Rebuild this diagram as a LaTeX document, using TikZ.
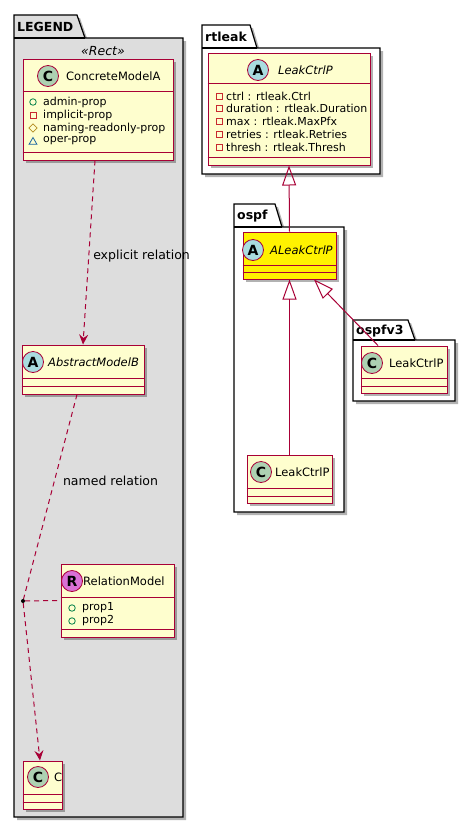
\documentclass[tikz,border=0pt]{standalone}
\usepackage{fontspec}
\setmainfont{DejaVu Sans}
\usetikzlibrary{arrows.meta,shadows,shapes.geometric}
\definecolor{umlred}{HTML}{A80036}
\definecolor{umlyellow}{HTML}{FEFECE}
\definecolor{spotc}{HTML}{ADD1B2}
\definecolor{spota}{HTML}{A9DCDF}
\definecolor{spotr}{HTML}{DA70D6}
\definecolor{legendgray}{HTML}{DDDDDD}
\definecolor{pubgreen}{HTML}{038048}
\definecolor{privred}{HTML}{C82930}
\definecolor{protgold}{HTML}{B38D22}
\definecolor{packblue}{HTML}{1963A0}
\newcommand{\fsz}[1]{\fontsize{#1}{#1}\selectfont}

\tikzset{
  shade/.style={drop shadow={shadow xshift=3pt, shadow yshift=-3pt, fill=black, opacity=0.3}},
  pkg/.style={draw=black, line width=1.2pt, fill=white, shade},
  pkgname/.style={anchor=west, inner sep=0, font=\bfseries\fsz{12.5}},
  classbox/.style={draw=umlred, line width=1pt, fill=umlyellow, inner sep=0, shade},
  sep/.style={draw=umlred, line width=1pt},
  spot/.style={circle, draw=umlred, line width=.8pt, minimum size=21pt, inner sep=0, font=\bfseries\fsz{14}},
  cname/.style={anchor=west, inner sep=0, font=\fsz{11.5}},
  attr/.style={anchor=west, inner sep=0, font=\fsz{11}},
  pub/.style={circle, draw=pubgreen, line width=.8pt, minimum size=6.5pt, inner sep=0},
  priv/.style={rectangle, draw=privred, line width=.8pt, minimum size=6pt, inner sep=0},
  prot/.style={diamond, draw=protgold, line width=.8pt, minimum size=8.5pt, inner sep=0},
  pack/.style={regular polygon, regular polygon sides=3, draw=packblue, line width=.8pt, minimum size=9pt, inner sep=0},
  lbl/.style={inner sep=0, font=\fsz{12.5}},
  dep/.style={draw=umlred, line width=1pt, dash pattern=on 5pt off 4pt},
  deparrow/.style={dep, -{Stealth[length=10pt, width=9pt, inset=3.5pt]}},
  inherit/.style={draw=umlred, line width=1pt, -{Triangle[open, length=20pt, width=14pt]}}
}

\begin{document}
\begin{tikzpicture}[x=1pt, y=-1pt]
  \useasboundingbox (0,0) rectangle (475,828);

  % packages
  \draw[pkg, fill=legendgray] (14,817) |- (77,15) -- (85,38) -| (183,817) -- cycle;
  \draw[line width=1.2pt] (14,38) -- (85,38);
  \node[pkgname] (legend) at (17,27) {LEGEND};
  \node[font=\itshape\fsz{12.5}, inner sep=0] (stereo) at (103,51) {«Rect»};

  \draw[pkg] (202,174) |- (250,25) -- (257,48) -| (380,174) -- cycle;
  \draw[line width=1.2pt] (202,48) -- (257,48);
  \node[pkgname] (rtleak) at (205,37) {rtleak};

  \draw[pkg] (234,512) |- (275,204) -- (282,227) -| (344,512) -- cycle;
  \draw[line width=1.2pt] (234,227) -- (282,227);
  \node[pkgname] (ospf) at (237,216) {ospf};

  \draw[pkg] (353,401) |- (408,320) -- (415,340) -| (455,401) -- cycle;
  \draw[line width=1.2pt] (353,340) -- (415,340);
  \node[pkgname] (ospfv3) at (356,331) {ospfv3};

  % LEGEND classes
  \node[classbox, minimum width=150pt, minimum height=101pt] (cma) at (98,109.5) {};
  \draw[sep] (cma.west |- 0,91) -- (cma.east |- 0,91);
  \draw[sep] (cma.west |- 0,152) -- (cma.east |- 0,152);
  \node[spot, fill=spotc] (cma-s) at (48,76) {C};
  \node[cname] (cma-n) at (66,76) {ConcreteModelA};
  \node[pub] (cma-i1) at (33,102) {};
  \node[attr] (cma-a1) at (43,102) {admin-prop};
  \node[priv] (cma-i2) at (33,115) {};
  \node[attr] (cma-a2) at (43,115) {implicit-prop};
  \node[prot] (cma-i3) at (33,128) {};
  \node[attr] (cma-a3) at (43,128) {naming-readonly-prop};
  \node[pack, yshift=-1pt] (cma-i4) at (33,141) {};
  \node[attr] (cma-a4) at (43,141) {oper-prop};

  \node[classbox, minimum width=122pt, minimum height=49pt] (absb) at (83,369.5) {};
  \draw[sep] (absb.west |- 0,378) -- (absb.east |- 0,378);
  \draw[sep] (absb.west |- 0,386) -- (absb.east |- 0,386);
  \node[spot, fill=spota] (absb-s) at (33,362) {A};
  \node[cname, font=\itshape\fsz{11.5}] (absb-n) at (48,362) {AbstractModelB};

  \node[classbox, minimum width=113pt, minimum height=73pt] (relm) at (117.5,600.5) {};
  \draw[sep] (relm.west |- 0,597) -- (relm.east |- 0,597);
  \draw[sep] (relm.west |- 0,629) -- (relm.east |- 0,629);
  \node[spot, fill=spotr] (relm-s) at (72,581) {R};
  \node[cname] (relm-n) at (83,581) {RelationModel};
  \foreach \p [count=\i] in {prop1, prop2} {
    \node[pub] (relm-i\i) at (72,595+13*\i) {};
    \node[attr] (relm-a\i) at (82,595+13*\i) {\p};
  }

  \node[classbox, minimum width=39pt, minimum height=48pt] (cls) at (42.5,785) {};
  \draw[sep] (cls.west |- 0,794) -- (cls.east |- 0,794);
  \draw[sep] (cls.west |- 0,802) -- (cls.east |- 0,802);
  \node[spot, fill=spotc] (cls-s) at (38,777) {C};
  \node[cname] (cls-n) at (54,777) {C};

  \node[circle, fill=black, inner sep=0, minimum size=4pt] (rel) at (23,601) {};

  % rtleak / ospf / ospfv3 classes
  \node[classbox, minimum width=162pt, minimum height=112pt] (rlk) at (289,109) {};
  \draw[sep] (rlk.west |- 0,83) -- (rlk.east |- 0,83);
  \draw[sep] (rlk.west |- 0,157) -- (rlk.east |- 0,157);
  \node[spot, fill=spota] (rlk-s) at (258,70) {A};
  \node[cname, font=\itshape\fsz{11.5}] (rlk-n) at (278,70) {LeakCtrlP};
  \foreach \t [count=\i] in {ctrl : rtleak.Ctrl, duration : rtleak.Duration, max : rtleak.MaxPfx, retries : rtleak.Retries, thresh : rtleak.Thresh} {
    \node[priv] (rlk-i\i) at (219.5,83.2+12.8*\i) {};
    \node[attr] (rlk-a\i) at (226,83.2+12.8*\i) {\t};
  }

  \node[classbox, fill=yellow, minimum width=93pt, minimum height=47pt] (alk) at (289.5,255.5) {};
  \draw[sep] (alk.west |- 0,265) -- (alk.east |- 0,265);
  \draw[sep] (alk.west |- 0,272) -- (alk.east |- 0,272);
  \node[spot, fill=spota] (alk-s) at (253,250) {A};
  \node[cname, font=\itshape\fsz{11.5}] (alk-n) at (270,250) {ALeakCtrlP};

  \node[classbox, minimum width=85pt, minimum height=48pt] (olk) at (289.5,479) {};
  \draw[sep] (olk.west |- 0,488) -- (olk.east |- 0,488);
  \draw[sep] (olk.west |- 0,496) -- (olk.east |- 0,496);
  \node[spot, fill=spotc] (olk-s) at (261,472) {C};
  \node[cname] (olk-n) at (275,472) {LeakCtrlP};

  \node[classbox, minimum width=86pt, minimum height=47pt] (v3lk) at (404,369.5) {};
  \draw[sep] (v3lk.west |- 0,378) -- (v3lk.east |- 0,378);
  \draw[sep] (v3lk.west |- 0,386) -- (v3lk.east |- 0,386);
  \node[spot, fill=spotc] (v3lk-s) at (372,363) {C};
  \node[cname] (v3lk-n) at (389,363) {LeakCtrlP};

  % relations
  \draw[deparrow] ([xshift=-3pt]cma.south) -- (absb.north)
    node[lbl, pos=.52, anchor=west, xshift=4pt] {explicit relation};
  \draw[dep] ([xshift=-6pt]absb.south) -- (rel)
    node[lbl, pos=.42, anchor=west, xshift=8pt] {named relation};
  \draw[dep] (rel) -- (relm.west);
  \draw[deparrow] (rel) -- ([xshift=-2.5pt]cls.north);

  \draw[inherit] (alk.north) -- (rlk.south);
  \draw[inherit] (olk.north) -- (alk.south);
  \draw[inherit] ([xshift=-26pt]v3lk.north) -- ([xshift=24.5pt]alk.south);
\end{tikzpicture}
\end{document}
